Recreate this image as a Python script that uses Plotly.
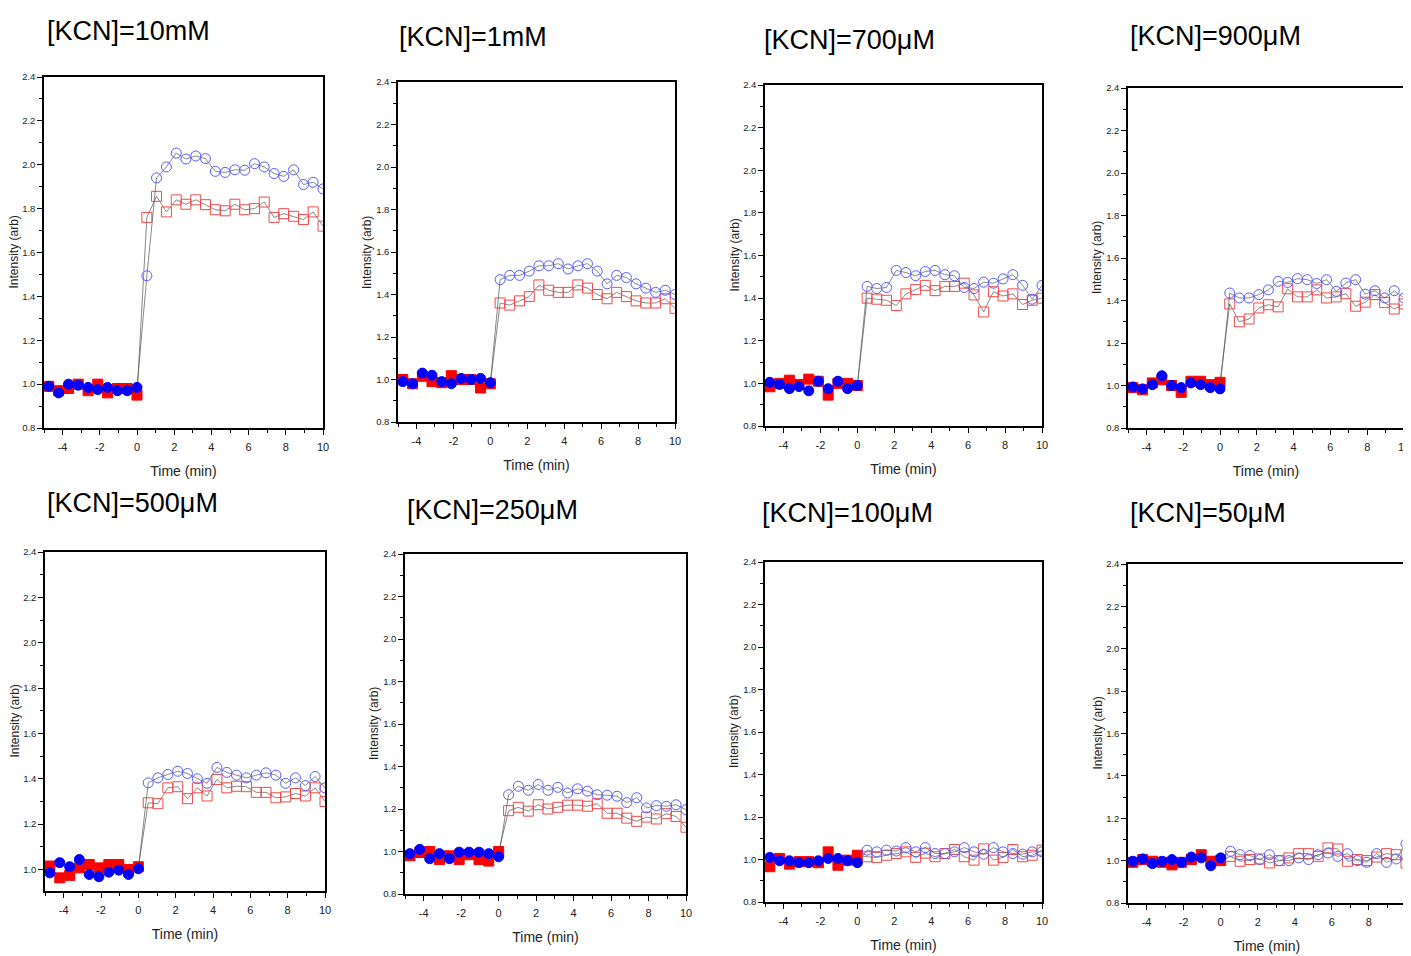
import plotly.graph_objects as go

# ---------------- data ----------------
time_pre = [-4.74, -4.21, -3.68, -3.16, -2.63, -2.11, -1.58, -1.05, -0.53, 0.0]
time_post = [0.53, 1.05, 1.58, 2.11, 2.63, 3.16, 3.68, 4.21, 4.74, 5.26,
             5.79, 6.32, 6.84, 7.37, 7.89, 8.42, 8.95, 9.47, 10.0]

xtick_vals = [-4, -2, 0, 2, 4, 6, 8, 10]
xtick_labels = ["-4", "-2", "0", "2", "4", "6", "8", "10"]

titles = ["[KCN]=10mM", "[KCN]=1mM", "[KCN]=700μM", "[KCN]=900μM",
          "[KCN]=500μM", "[KCN]=250μM", "[KCN]=100μM", "[KCN]=50μM"]
x_title = "Time (min)"
y_title = "Intensity (arb)"

red_pre_10mM = [0.99, 0.97, 0.98, 1.00, 0.97, 1.00, 0.96, 0.98, 0.98, 0.95]
blue_pre_10mM = [0.99, 0.96, 1.00, 0.995, 0.985, 0.975, 0.985, 0.97, 0.97, 0.985]
red_post_10mM = [1.76, 1.856, 1.785, 1.84, 1.82, 1.84, 1.818, 1.795, 1.79, 1.82,
                 1.795, 1.80, 1.83, 1.76, 1.777, 1.765, 1.75, 1.785, 1.72]
blue_post_10mM = [1.494, 1.94, 1.99, 2.053, 2.026, 2.04, 2.028, 1.97, 1.965, 1.977,
                  1.975, 2.005, 1.99, 1.96, 1.947, 1.977, 1.91, 1.92, 1.89]

red_pre_1mM = [1.0, 0.98, 1.015, 0.99, 0.985, 1.018, 1.0, 1.0, 0.96, 0.98]
blue_pre_1mM = [0.99, 0.98, 1.03, 1.02, 0.99, 0.98, 1.005, 1.0, 1.005, 0.985]
red_post_1mM = [1.36, 1.35, 1.37, 1.39, 1.445, 1.42, 1.41, 1.41, 1.445, 1.43,
                1.40, 1.38, 1.41, 1.39, 1.37, 1.36, 1.36, 1.38, 1.335]
blue_post_1mM = [1.47, 1.49, 1.49, 1.51, 1.535, 1.535, 1.545, 1.52, 1.535, 1.545,
                 1.51, 1.45, 1.49, 1.48, 1.45, 1.43, 1.41, 1.42, 1.40]

red_pre_700uM = [0.984, 1.0, 1.015, 0.995, 1.02, 1.01, 0.945, 1.0, 1.0, 0.99]
blue_pre_700uM = [1.005, 0.995, 0.975, 0.985, 0.965, 1.01, 0.975, 1.01, 0.975, 0.99]
red_post_700uM = [1.40, 1.395, 1.39, 1.365, 1.42, 1.44, 1.46, 1.435, 1.455, 1.455,
                  1.47, 1.415, 1.335, 1.43, 1.41, 1.42, 1.37, 1.39, 1.40]
blue_post_700uM = [1.455, 1.445, 1.45, 1.53, 1.52, 1.505, 1.525, 1.53, 1.51, 1.505,
                   1.45, 1.445, 1.475, 1.47, 1.49, 1.51, 1.46, 1.395, 1.46]

red_pre_900uM = [0.99, 0.98, 1.012, 1.027, 1.0, 0.968, 1.02, 1.02, 1.004, 1.015]
blue_pre_900uM = [0.993, 0.984, 1.004, 1.046, 1.0, 0.99, 1.012, 1.004, 0.99, 0.984]
red_post_900uM = [1.384, 1.30, 1.313, 1.365, 1.38, 1.37, 1.455, 1.417, 1.417, 1.45,
                  1.412, 1.417, 1.432, 1.373, 1.392, 1.428, 1.39, 1.36, 1.384]
blue_post_900uM = [1.435, 1.412, 1.412, 1.428, 1.45, 1.49, 1.485, 1.503, 1.498, 1.48,
                   1.498, 1.443, 1.482, 1.498, 1.43, 1.446, 1.412, 1.446, 1.412]

red_pre_500uM = [1.015, 0.963, 0.974, 1.007, 1.022, 1.007, 1.022, 1.022, 1.0, 1.012]
blue_pre_500uM = [0.985, 1.03, 1.012, 1.044, 0.978, 0.968, 0.988, 0.997, 0.978, 1.003]
red_post_500uM = [1.294, 1.29, 1.36, 1.365, 1.312, 1.36, 1.324, 1.397, 1.36, 1.367,
                  1.365, 1.34, 1.34, 1.316, 1.32, 1.335, 1.324, 1.36, 1.30]
blue_post_500uM = [1.382, 1.404, 1.419, 1.433, 1.423, 1.40, 1.38, 1.45, 1.428, 1.416,
                   1.404, 1.416, 1.426, 1.416, 1.38, 1.404, 1.37, 1.41, 1.36]

red_pre_250uM = [0.98, 0.995, 1.0, 0.962, 0.98, 0.962, 0.985, 0.962, 0.955, 1.0]
blue_pre_250uM = [0.99, 1.01, 0.966, 0.99, 0.966, 0.997, 0.997, 0.997, 0.99, 0.975]
red_post_250uM = [1.192, 1.208, 1.19, 1.22, 1.20, 1.208, 1.218, 1.218, 1.213, 1.225,
                  1.18, 1.18, 1.157, 1.142, 1.162, 1.153, 1.178, 1.165, 1.114]
blue_post_250uM = [1.267, 1.307, 1.288, 1.315, 1.288, 1.302, 1.275, 1.295, 1.284, 1.267,
                   1.265, 1.26, 1.23, 1.253, 1.205, 1.216, 1.213, 1.22, 1.197]

red_pre_100uM = [0.966, 1.005, 0.978, 0.99, 0.99, 0.985, 1.036, 0.973, 0.997, 1.02]
blue_pre_100uM = [1.01, 0.994, 0.994, 0.985, 0.985, 0.994, 1.005, 1.005, 0.994, 0.985]
red_post_100uM = [1.013, 1.01, 1.02, 1.028, 1.036, 1.01, 1.03, 1.013, 1.028, 1.047,
                  1.013, 0.997, 1.05, 0.997, 1.01, 1.047, 1.013, 1.02, 1.044]
blue_post_100uM = [1.044, 1.036, 1.044, 1.04, 1.056, 1.036, 1.056, 1.028, 1.028, 1.036,
                   1.056, 1.036, 1.025, 1.056, 1.036, 1.028, 1.025, 1.036, 1.036]

red_pre_50uM = [0.992, 1.005, 0.997, 0.992, 0.98, 0.992, 1.005, 1.028, 0.997, 1.0]
blue_pre_50uM = [0.997, 1.008, 0.986, 0.997, 1.005, 0.992, 1.017, 1.013, 0.976, 1.013]
red_post_50uM = [1.02, 0.997, 1.005, 1.008, 0.989, 1.0, 1.013, 1.033, 1.033, 1.02,
                 1.06, 1.055, 0.997, 1.005, 1.0, 1.017, 1.033, 1.028, 0.989]
blue_post_50uM = [1.044, 1.028, 1.024, 1.005, 1.028, 1.0, 1.0, 1.013, 1.005, 1.028,
                  1.036, 1.02, 1.033, 1.0, 0.992, 1.033, 0.992, 1.008, 1.08]

red_pre = [red_pre_10mM, red_pre_1mM, red_pre_700uM, red_pre_900uM,
           red_pre_500uM, red_pre_250uM, red_pre_100uM, red_pre_50uM]
blue_pre = [blue_pre_10mM, blue_pre_1mM, blue_pre_700uM, blue_pre_900uM,
            blue_pre_500uM, blue_pre_250uM, blue_pre_100uM, blue_pre_50uM]
red_post = [red_post_10mM, red_post_1mM, red_post_700uM, red_post_900uM,
            red_post_500uM, red_post_250uM, red_post_100uM, red_post_50uM]
blue_post = [blue_post_10mM, blue_post_1mM, blue_post_700uM, blue_post_900uM,
             blue_post_500uM, blue_post_250uM, blue_post_100uM, blue_post_50uM]

# ---------------- layout geometry (page pixels) ----------------
OFF = 8                      # default page body margin
W, H = 1411 - OFF, 956 - OFF  # figure size so that it fits the window exactly
boxes = [  # x0, x1, y0(top), y1(bottom) in page pixels
    (44, 323, 77, 428), (398, 675, 82, 422), (765, 1042, 85, 426), (1128, 1404, 88, 428),
    (45, 325, 552, 891), (405, 686, 554, 894), (765, 1042, 562, 902), (1128, 1406, 564, 903),
]
title_pos = [(45, 31), (397, 37), (762, 40), (1128, 36),
             (45, 503), (405, 510), (760, 513), (1128, 513)]
ytitle_gap = [31, 31, 31, 31, 31, 31, 31, 31]
yranges = [[0.8, 2.4]] * 4 + [[0.905, 2.4], [0.8, 2.4], [0.8, 2.4], [0.8, 2.4]]


def px(x):
    return (x - OFF) / W


def py(y):
    return 1 - (y - OFF) / H


NARROW = "Liberation Sans Narrow, Arial Narrow, Liberation Sans, Arial, sans-serif"
REG = "Liberation Sans, Arial, sans-serif"
RED_F, BLUE_F = "#ff0000", "#0000ff"
RED_O, BLUE_O = "#f24a4a", "#5a5aff"

fig = go.Figure()
layout = dict(width=W, height=H, margin=dict(l=0, r=0, t=0, b=0, autoexpand=False),
              paper_bgcolor="white", plot_bgcolor="white", showlegend=False)
annotations = []

for i in range(8):
    n = i + 1
    x0, x1, yt, yb = boxes[i]
    xd = [px(x0), px(x1)]
    yd = [py(yb), py(yt)]
    xa = "x" if n == 1 else f"x{n}"
    ya = "y" if n == 1 else f"y{n}"
    t_all = time_pre + time_post

    for pre, post, cf, co, sym in [(red_pre[i], red_post[i], RED_F, RED_O, "square"),
                                   (blue_pre[i], blue_post[i], BLUE_F, BLUE_O, "circle")]:
        vals = pre + post
        fig.add_trace(go.Scatter(
            x=t_all, y=vals, xaxis=xa, yaxis=ya, mode="lines+markers",
            line=dict(color="#555555", width=0.7),
            marker=dict(
                symbol=[sym] * len(pre) + [sym + "-open"] * len(post),
                color=[cf] * len(pre) + [co] * len(post),
                size=10, line=dict(width=1, color=[cf] * len(pre) + [co] * len(post)),
            ),
            hoverinfo="skip",
        ))

    axkey_x = "xaxis" if n == 1 else f"xaxis{n}"
    axkey_y = "yaxis" if n == 1 else f"yaxis{n}"
    layout[axkey_x] = dict(
        domain=xd, anchor=ya, range=[-5, 10], tickmode="array",
        tickvals=xtick_vals, ticktext=xtick_labels,
        ticks="outside", ticklen=5, tickwidth=1, tickcolor="black",
        minor=dict(dtick=1, tick0=0, ticks="outside", ticklen=3, tickcolor="black"),
        showline=True, linecolor="black", linewidth=1.5, mirror=True,
        showgrid=False, zeroline=False, automargin=False, ticklabelstandoff=3,
        tickfont=dict(family=NARROW, size=11, color="#222"),
        title=dict(text=x_title, font=dict(family=NARROW, size=14, color="#222"), standoff=14),
    )
    layout[axkey_y] = dict(
        domain=yd, anchor=xa, range=yranges[i], tick0=0.8, dtick=0.2,
        ticks="outside", ticklen=5, tickwidth=1, tickcolor="black",
        minor=dict(dtick=0.1, ticks="outside", ticklen=3, tickcolor="black"),
        showline=True, linecolor="black", linewidth=1.5, mirror=True,
        showgrid=False, zeroline=False, tickformat=".1f", automargin=False,
        tickfont=dict(family=NARROW, size=9.5, color="#222"),
    )
    # inward ticks on top & right
    tx = f"xaxis{n + 8}"
    ty = f"yaxis{n + 8}"
    layout[tx] = dict(overlaying=xa, side="top", anchor=ya, range=[-5, 10], tick0=0, dtick=2,
                      ticks="inside", ticklen=5, tickcolor="black",
                      minor=dict(dtick=1, ticks="inside", ticklen=3, tickcolor="black"),
                      showticklabels=False, showgrid=False, zeroline=False, showline=False,
                      automargin=False)
    layout[ty] = dict(overlaying=ya, side="right", anchor=xa, range=yranges[i], tick0=0.8, dtick=0.2,
                      ticks="inside", ticklen=5, tickcolor="black",
                      showticklabels=False, showgrid=False, zeroline=False, showline=False,
                      automargin=False)

    # y-axis title
    annotations.append(dict(text=y_title, x=px(x0 - ytitle_gap[i]), y=py((yt + yb) / 2),
                            xref="paper", yref="paper", xanchor="center", yanchor="middle",
                            textangle=-90, showarrow=False,
                            font=dict(family=REG, size=12, color="#222")))
    # panel title
    tx0, tyc = title_pos[i]
    annotations.append(dict(text=titles[i], x=px(tx0), y=py(tyc), xref="paper", yref="paper",
                            xanchor="left", yanchor="middle", showarrow=False,
                            font=dict(family=NARROW, size=27, color="black")))

layout["annotations"] = annotations
fig.update_layout(**layout)
fig.write_html("out.html")
